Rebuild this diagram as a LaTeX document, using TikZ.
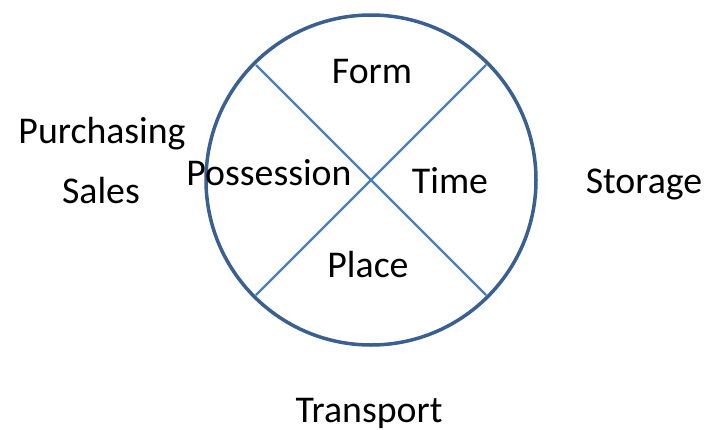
\documentclass[tikz,border=0pt]{standalone}
\usepackage{fontspec}
\setmainfont{Carlito}
\definecolor{ringblue}{HTML}{3A5F91}
\definecolor{lineblue}{HTML}{4A7EBB}
\begin{document}
\begin{tikzpicture}[x=1pt,y=-1pt,
  lbl/.style={anchor=base,inner sep=0pt,font=\fontsize{37.8}{45}\selectfont},
  ring/.style={draw=ringblue,line width=3.5pt},
  cross/.style={draw=lineblue,line width=2.2pt}]
\useasboundingbox (0,0) rectangle (705,429);
\coordinate (c) at (371,180);
\coordinate (tl) at (256,65);
\coordinate (br) at (486,295);
\coordinate (tr) at (486,65);
\coordinate (bl) at (256,295);
\draw[cross] (tl) -- (br);
\draw[cross] (tr) -- (bl);
\draw[ring] (c) circle[radius=165];
\node[lbl] (form) at (372,83) {Form};
\node[lbl] (poss) at (269,185) {Possession};
\node[lbl] (time) at (450,193) {Time};
\node[lbl] (place) at (368,277) {Place};
\node[lbl] (storage) at (644,193) {Storage};
\node[lbl] (purch) at (102,143) {Purchasing};
\node[lbl] (sales) at (101,203) {Sales};
\node[lbl] (transport) at (369,422) {Transport};
\end{tikzpicture}
\end{document}
